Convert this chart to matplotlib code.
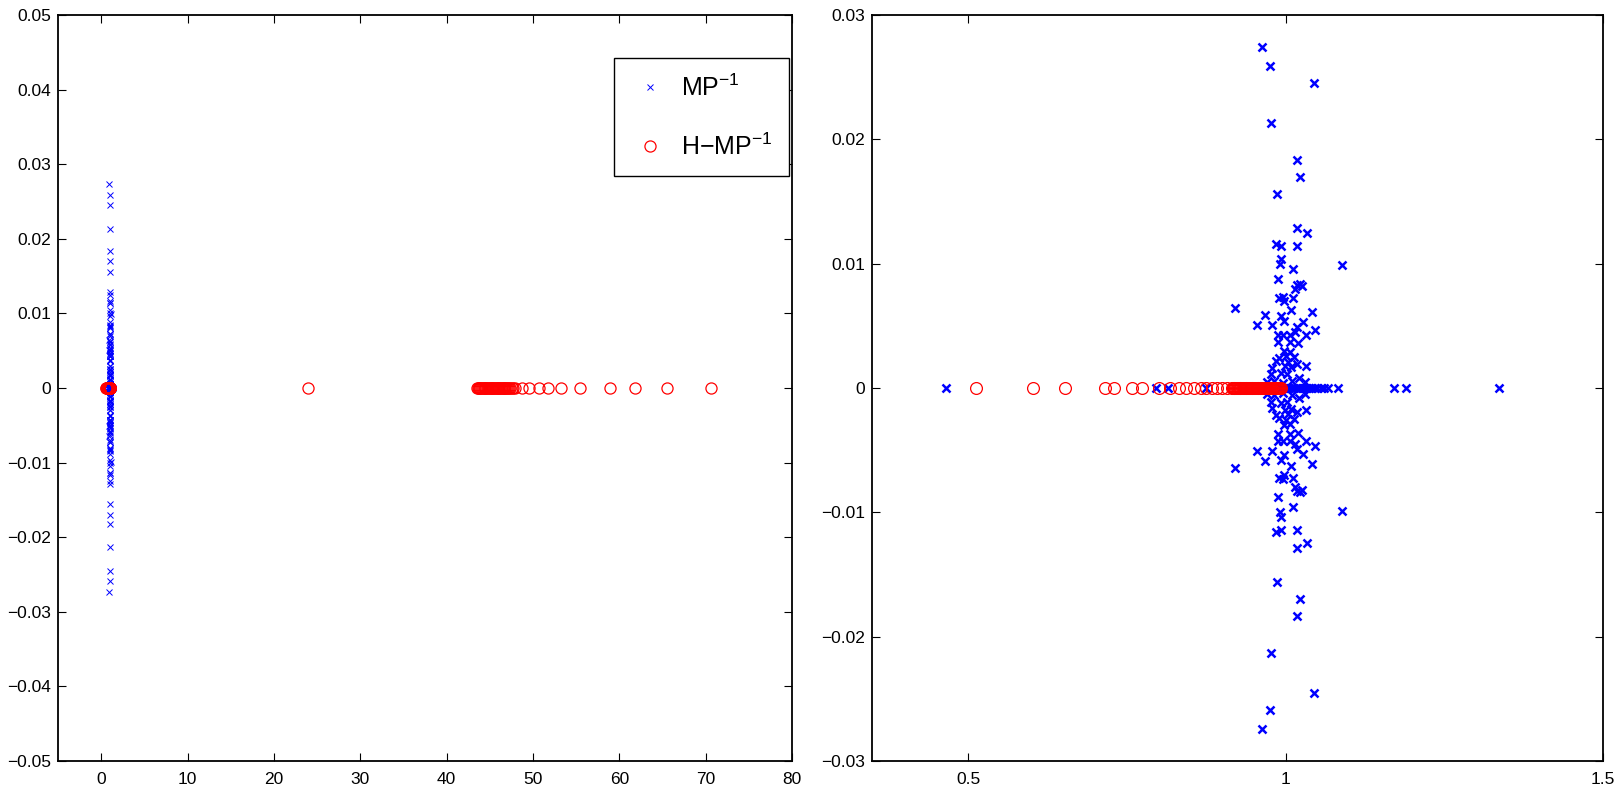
import numpy as np
import matplotlib
matplotlib.use("Agg")
import matplotlib.pyplot as plt

plt.rcParams['font.family'] = ['Liberation Sans', 'DejaVu Sans']
plt.rcParams['mathtext.default'] = 'regular'

# eigenvalues of M P^-1: complex ones (upper half plane, conjugates added below)
mp_cplx_re = [0.962, 0.975, 1.045, 0.976, 1.018, 1.022, 0.987, 1.017, 1.033, 0.985,
              1.018, 0.992, 0.992, 0.991, 1.089, 1.011, 0.988, 1.017, 1.022, 1.026,
              1.015, 0.995, 0.990, 0.997, 1.011, 0.920, 0.967, 1.009, 1.041, 0.992,
              0.954, 0.978, 0.998, 1.027, 1.046, 1.017, 0.988, 0.996, 1.007, 1.014,
              1.032, 0.988, 1.007, 1.020, 0.998, 1.007, 1.001, 0.990, 1.013, 0.985,
              0.999, 1.008, 1.017, 1.032, 0.976, 0.992, 1.002, 0.970, 0.981, 0.995,
              1.010, 1.021, 1.030, 0.979, 1.004]
mp_cplx_im = [0.0274, 0.0259, 0.0245, 0.0213, 0.0183, 0.0170, 0.0156, 0.0129, 0.0125, 0.0116,
              0.0114, 0.0114, 0.0104, 0.0100, 0.0099, 0.0096, 0.0088, 0.0083, 0.0084, 0.0082,
              0.0080, 0.0073, 0.0072, 0.0070, 0.0072, 0.0064, 0.0059, 0.0063, 0.0061, 0.0058,
              0.0051, 0.0051, 0.0054, 0.0053, 0.0047, 0.0049, 0.0043, 0.0043, 0.0043, 0.0045,
              0.0043, 0.0037, 0.0037, 0.0036, 0.0030, 0.0029, 0.0026, 0.0024, 0.0025, 0.0022,
              0.0018, 0.0017, 0.0019, 0.0018, 0.0011, 0.0012, 0.0011, 0.0005, 0.0006, 0.0004,
              0.0006, 0.0008, 0.0005, 0.0016, 0.0021]
# real eigenvalues of M P^-1
mp_real = [0.464, 0.795, 0.815, 0.874, 0.993, 0.997, 1.001, 1.005, 1.009, 1.013,
           1.017, 1.021, 1.025, 1.029, 1.033, 1.037, 1.041, 1.046, 1.050, 1.055,
           1.061, 1.067, 1.083, 1.170, 1.190, 1.336]

# eigenvalues of H-M P^-1 (all real)
hmp_real = [0.512, 0.601, 0.652, 0.715, 0.730, 0.757, 0.773, 0.800, 0.818, 0.831,
            0.843, 0.855, 0.867, 0.875, 0.883, 0.891, 0.899, 0.907,
            0.9150, 0.9163, 0.9177, 0.9190, 0.9204, 0.9218, 0.9231, 0.9245, 0.9258, 0.9272,
            0.9285, 0.9299, 0.9312, 0.9326, 0.9340, 0.9353, 0.9367, 0.9380, 0.9394, 0.9407,
            0.9421, 0.9435, 0.9448, 0.9462, 0.9475, 0.9489, 0.9502, 0.9516, 0.9529, 0.9543,
            0.9557, 0.9570, 0.9584, 0.9597, 0.9611, 0.9624, 0.9638, 0.9651, 0.9665, 0.9679,
            0.9692, 0.9706, 0.9719, 0.9733, 0.9746, 0.9760, 0.9773, 0.9787, 0.9800, 0.9814,
            0.9828, 0.9841, 0.9855, 0.9868, 0.9882, 0.9895, 0.9909, 0.9920,
            24.0,
            43.50, 43.60, 43.70, 43.80, 43.90, 44.00, 44.10, 44.20, 44.30, 44.40,
            44.50, 44.60, 44.70, 44.80, 44.90, 45.00, 45.10, 45.20, 45.30, 45.40,
            45.50, 45.60, 45.70, 45.80, 45.90, 46.00, 46.10, 46.20, 46.30, 46.40,
            46.50, 46.60, 46.70, 46.80, 46.90, 47.00, 47.10, 47.25, 47.40, 47.55,
            47.70, 47.90,
            48.7, 49.6, 50.7, 51.7, 53.3, 55.5, 58.9, 61.8, 65.5, 70.6]

left_xticks = [0, 10, 20, 30, 40, 50, 60, 70, 80]
left_yticks = [-0.05, -0.04, -0.03, -0.02, -0.01, 0, 0.01, 0.02, 0.03, 0.04, 0.05]
right_xticks = [0.5, 1, 1.5]
right_yticks = [-0.03, -0.02, -0.01, 0, 0.01, 0.02, 0.03]

mp_re = np.concatenate([mp_cplx_re, mp_cplx_re, mp_real])
mp_im = np.concatenate([mp_cplx_im, -np.array(mp_cplx_im), np.zeros(len(mp_real))])
hmp_re = np.array(hmp_real)
hmp_im = np.zeros(len(hmp_real))


def fmt(v):
    return f"{v:g}".replace('-', '\u2212')


def style_axes(ax, xticks, yticks):
    ax.set_xticks(xticks)
    ax.set_xticklabels([fmt(v) for v in xticks])
    ax.set_yticks(yticks)
    ax.set_yticklabels([fmt(v) for v in yticks])
    ax.tick_params(direction='in', length=6, width=0.8, top=True, right=True,
                   labelsize=12.5, pad=5, colors='black')
    ax.tick_params(axis='x', pad=8)
    for s in ax.spines.values():
        s.set_linewidth(1.3)


fig = plt.figure(figsize=(16.2, 7.94), dpi=100)
ax1 = fig.add_axes([0.0358, 0.0416, 0.4531, 0.9395])
ax2 = fig.add_axes([0.5383, 0.0416, 0.4512, 0.9395])

ax1.plot(mp_re, mp_im, 'x', color='blue', ms=5, mew=0.7, label='MP$^{-1}$')
ax1.plot(hmp_re, hmp_im, 'o', color='red', mfc='none', ms=8, mew=0.9, label='H$-$MP$^{-1}$')
ax1.set_xlim(-5, 80)
ax1.set_ylim(-0.05, 0.05)
style_axes(ax1, left_xticks, left_yticks)
leg = ax1.legend(loc='upper right', bbox_to_anchor=(0.996, 0.942), borderaxespad=0,
                 fontsize=18, fancybox=False, framealpha=1, edgecolor='black',
                 handlelength=1.6, handletextpad=0.45, labelspacing=1.3,
                 borderpad=0.65, markerscale=1.0)
leg.get_frame().set_linewidth(1.0)

ax2.plot(mp_re, mp_im, 'x', color='blue', ms=6, mew=1.8)
ax2.plot(hmp_re, hmp_im, 'o', color='red', mfc='none', ms=8.5, mew=0.9)
ax2.set_xlim(0.348, 1.5)
ax2.set_ylim(-0.03, 0.03)
style_axes(ax2, right_xticks, right_yticks)

fig.savefig('out.png', dpi=100)
